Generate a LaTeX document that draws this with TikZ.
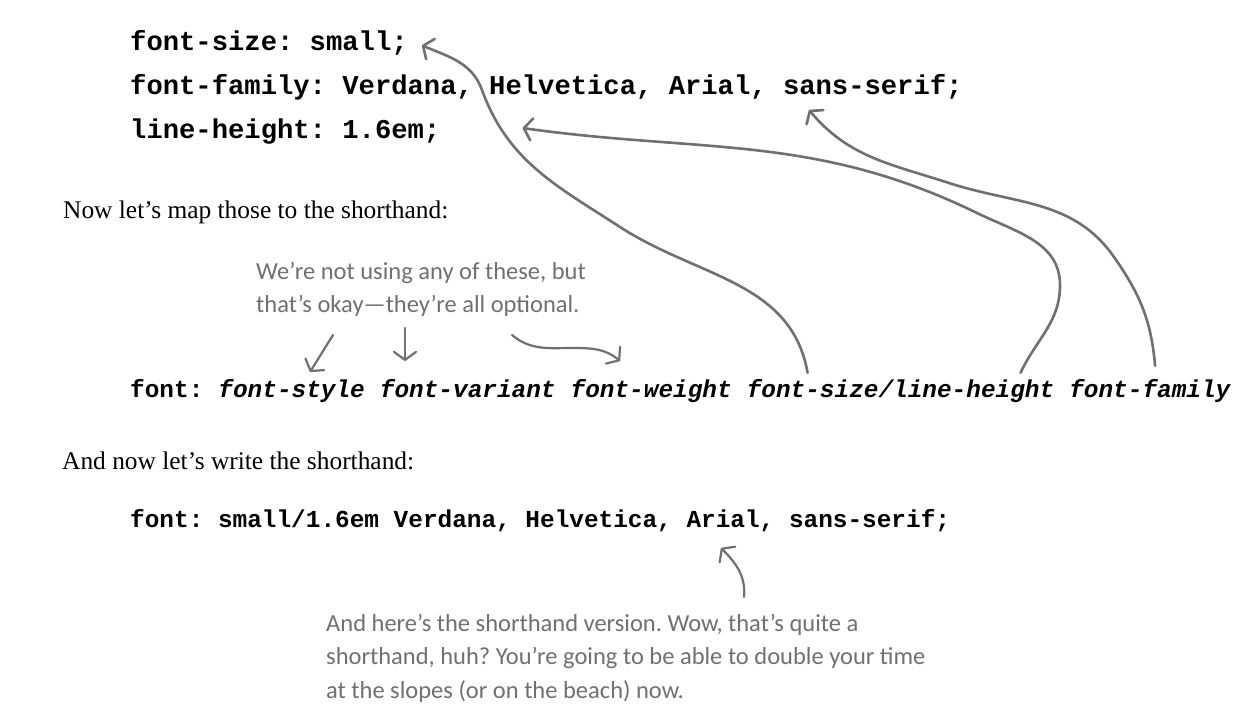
\documentclass[tikz,border=0pt]{standalone}
\usepackage{fontspec}
\usetikzlibrary{positioning, arrows.meta, calc}
\setmainfont{Liberation Serif}
\newfontfamily\codefont{Liberation Mono}
\newfontfamily\handfont{Carlito}
\definecolor{pen}{RGB}{112,112,112}
\frenchspacing

\begin{document}
\begin{tikzpicture}[x=1pt, y=-1pt,
	code/.style={font=\codefont\bfseries\fontsize{27.2}{30}\selectfont,
		inner sep=0pt, anchor=base west},
	short/.style={font=\codefont\bfseries\fontsize{24.4}{28}\selectfont,
		inner sep=0pt, anchor=base west},
	prop/.style={font=\codefont\bfseries\itshape\fontsize{24.4}{28}\selectfont,
		inner sep=0pt},
	prose/.style={font=\fontsize{25.4}{30}\selectfont, inner sep=0pt,
		anchor=base west},
	hand/.style={font=\handfont\fontsize{24.5}{33.5}\selectfont, text=pen,
		align=left, inner sep=0pt, anchor=north west},
	pen arrow/.style={draw=pen, line width=2.6pt, line cap=round,
		-{Straight Barb[length=8pt, width=22pt, round]}},
	node distance=14.64pt]

	\fill [white] (0,0) rectangle (1260,724);
	\useasboundingbox (0,0) rectangle (1260,724);

		% Longhand
		\node [code] (fsize) at (130,50) {font-size: small;};
		\node [code] (ffamily) at (130,94) {font-family: Verdana, Helvetica, Arial, sans-serif;};
		\node [code] (lheight) at (130,138) {line-height: 1.6em;};

		\node [prose] (map) at (63,218) {Now let’s map those to the shorthand:};

		% Note on the optional ones
		\node [hand] (note-1) at (256,262) {
			We’re not using any of these, but\\
			that’s okay—they’re all optional.
		};

		% Shorthand pattern
		\node [short] (sh-0) at (130,397) {font:};
		\foreach \w [count=\i, remember=\i as \j (initially 0)] in
			{font-style, font-variant, font-weight, font-size/line-height, font-family}
			\node [prop, base right=of sh-\j] (sh-\i) {\w};

		\node [prose] (write) at (62,469) {And now let’s write the shorthand:};

		% Shorthand itself
		\node [short] (final) at (130,527) {font: small/1.6em Verdana, Helvetica, Arial, sans-serif;};

		\node [hand] (note-2) at (326,614) {
			And here’s the shorthand version. Wow, that’s quite a\\
			shorthand, huh? You’re going to be able to double your time\\
			at the slopes (or on the beach) now.
		};

		% Ends of the arrows
		\coordinate (s-1) at ($(sh-4.north west)+(61,-6)$);
		\coordinate (s-2) at ($(sh-4.north west)+(274,-6)$);
		\coordinate (s-3) at ($(sh-5.north west)+(86,-13)$);
		\coordinate (t-1) at ($(fsize.east)+(14,3)$);
		\coordinate (t-2) at ($(lheight.east)+(82,-3)$);
		\coordinate (t-3) at (809,110);
		\coordinate (m-1) at (620,227);
		\coordinate (m-2) at (482,90);
		\coordinate (m-3) at (1060,285);
		\coordinate (m-4) at (977,213);
		\coordinate (m-5) at (1114,257);
		\coordinate (m-6) at (949,183);

		\draw [pen arrow] (s-1) to [out=100, in=-33] (m-1)
			to [out=147, in=-70] (m-2) to [out=110, in=-23] (t-1);
		\draw [pen arrow] (s-2) to [out=65, in=-90] (m-3)
			to [out=90, in=-26] (m-4) to [out=154, in=-8] (t-2);
		\draw [pen arrow] (s-3) to [out=95, in=-55] (m-5)
			to [out=125, in=-18] (m-6) to [out=162, in=-50] (t-3);

		% Small arrows from the note
		\coordinate (a-1) at (333,335);
		\coordinate (a-2) at (405,328);
		\coordinate (a-3) at (512,335);
		\coordinate (b-1) at (310,372);
		\coordinate (b-2) at (405,361);
		\coordinate (b-3) at (620,361);
		\foreach \i in {1, 2}
			\draw [pen arrow, line width=2.2pt] (a-\i) -- (b-\i);
		\draw [pen arrow, line width=2.2pt] (a-3) to [out=-40, in=180] (573,348)
			to [out=0, in=140] (b-3);

		\coordinate (a-4) at (744,597);
		\coordinate (b-4) at (721,548);
		\draw [pen arrow, line width=2.2pt] (a-4) to [out=85, in=-45] (b-4);

	\end{tikzpicture}
\end{document}
